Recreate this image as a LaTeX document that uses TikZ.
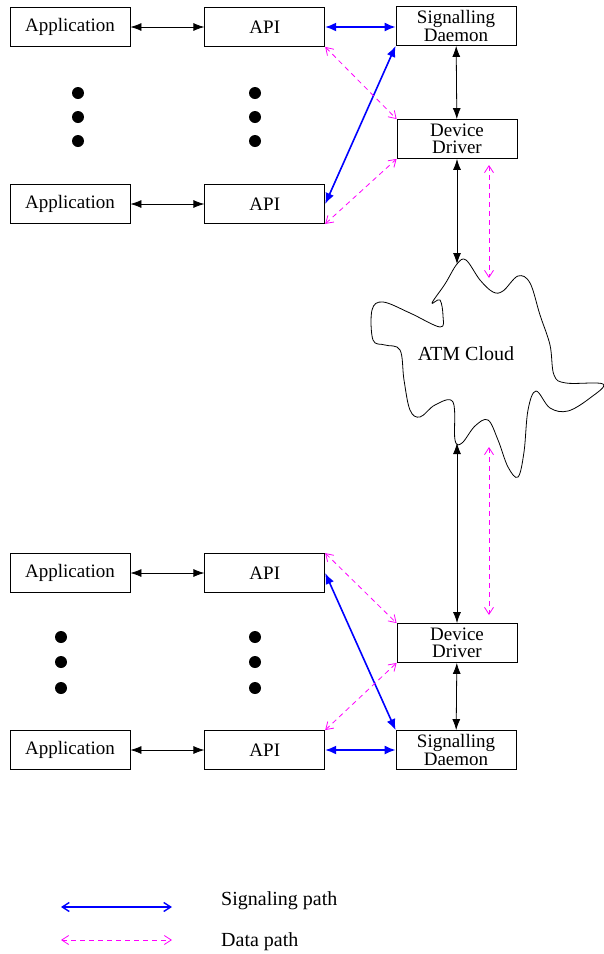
\documentclass[tikz,border=0pt]{standalone}
\usepackage{fontspec}
\setmainfont{Liberation Serif}
\usetikzlibrary{positioning, arrows.meta}
\definecolor{datapink}{RGB}{255,0,255}

\begin{document}
\begin{tikzpicture}[x=1pt, y=-1pt,
        unit/.style={rectangle, draw, line width=0.8pt, minimum width=120pt, minimum height=39pt, inner sep=1pt, align=center, font=\fontsize{19}{17.5}\selectfont},
        ctl/.style={{Latex[length=11pt,width=8pt]}-{Latex[length=11pt,width=8pt]}, line width=0.8pt},
        sig/.style={{Latex[length=11pt,width=9pt]}-{Latex[length=11pt,width=9pt]}, blue, line width=1.6pt},
        data/.style={{Straight Barb[length=7pt,width=9pt]}-{Straight Barb[length=7pt,width=9pt]}, datapink, dash pattern=on 5pt off 4pt, line width=0.8pt},
        dot/.style={circle, fill, inner sep=0pt, minimum size=12pt},
        label/.style={anchor=west, inner sep=0pt, font=\fontsize{20}{22}\selectfont}]
        \useasboundingbox (0,0) rectangle (603,954);
        % upper host
        \node (app1) [unit] at (70,27) {Application};
        \node (api1) [unit, right=74pt of app1] {API};
        \node (sd1) [unit] at (456,26) {Signalling\\Daemon};
        \node (dd1) [unit] at (457,139) {Device\\Driver};
        \node (app2) [unit] at (70,204) {Application};
        \node (api2) [unit, right=74pt of app2] {API};
        \foreach \y in {93,117,141} {
            \node [dot] at (78,\y) {};
            \node [dot] at (255,\y) {};
        }
        % cloud
        \node (cloud) [font=\fontsize{20}{22}\selectfont] at (466,354) {ATM Cloud};
        \draw[line width=0.8pt] plot[smooth cycle, tension=0.6] coordinates {
            (457,264) (466,260) (480,280) (493,292) (503,291) (518,276) (530,283)
            (540,315) (550,345) (554,375) (566,383) (603,384) (590,398) (568,411)
            (550,408) (536,391) (528,410) (524,452) (518,477) (508,467) (498,440)
            (488,420) (475,426) (462,443) (455,440) (453,402) (435,405) (420,417)
            (410,410) (404,380) (400,350) (385,345) (373,340) (372,310) (383,302)
            (410,313) (440,327) (443,316) (440,300) (432,303) (445,284)};
        \coordinate (ctop) at (457,264);
        \coordinate (cbot) at (457,443);
        \coordinate (dtop1) at (489,165);
        \coordinate (dtop2) at (489,278);
        \coordinate (dbot1) at (489,447);
        \coordinate (dbot2) at (489,615);
        % lower host
        \node (app3) [unit] at (70,573) {Application};
        \node (api3) [unit, right=74pt of app3] {API};
        \node (dd2) [unit] at (457,643) {Device\\Driver};
        \node (app4) [unit] at (70,750) {Application};
        \node (api4) [unit, right=74pt of app4] {API};
        \node (sd2) [unit] at (456,750) {Signalling\\Daemon};
        \foreach \y in {637,662,688} {
            \node [dot] at (61,\y) {};
            \node [dot] at (255,\y) {};
        }
        % connections
        \draw[ctl] (app1) -- (api1);
        \draw[ctl] (app2) -- (api2);
        \draw[ctl] (app3) -- (api3);
        \draw[ctl] (app4) -- (api4);
        \draw[sig] (api1.east) -- (sd1.west |- api1.east);
        \draw[sig] (api2.east) -- (sd1.south west);
        \draw[sig] (api3.east) -- (sd2.north west);
        \draw[sig] (api4) -- (sd2);
        \draw[data] (api1.south east) -- (dd1.north west);
        \draw[data] (api2.south east) -- (dd1.south west);
        \draw[data] (api3.north east) -- (dd2.north west);
        \draw[data] (api4.north east) -- (dd2.south west);
        \draw[ctl] (sd1) -- (dd1);
        \draw[ctl] (dd2) -- (sd2);
        \draw[ctl] (dd1) -- (ctop);
        \draw[ctl] (cbot) -- (dd2);
        \draw[data] (dtop1) -- (dtop2);
        \draw[data] (dbot1) -- (dbot2);
        % legend
        \coordinate (sigA) at (61,907);
        \coordinate (sigB) at (172,907);
        \coordinate (datA) at (61,940);
        \coordinate (datB) at (172,940);
        \draw[blue, line width=1.4pt, {Straight Barb[length=7pt,width=9pt]}-{Straight Barb[length=7pt,width=9pt]}] (sigA) -- (sigB);
        \draw[data] (datA) -- (datB);
        \node (sigtext) [label] at (221,901) {Signaling path};
        \node (dattext) [label] at (221,942) {Data path};
\end{tikzpicture}
\end{document}
